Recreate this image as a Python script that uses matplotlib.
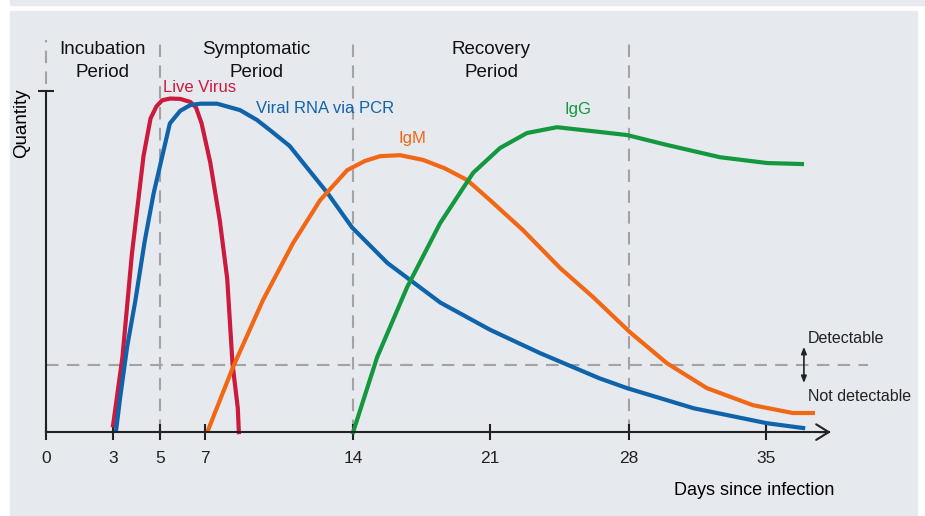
import numpy as np
import matplotlib
matplotlib.use("Agg")
import matplotlib.pyplot as plt
from matplotlib.patches import Rectangle

plt.rcParams['font.family'] = ['Liberation Sans', 'DejaVu Sans']

# x axis ticks (days since infection)
TICK_DAYS = [0, 3, 5, 7, 14, 21, 28, 35]
# the schematic axis is slightly stretched at the start
AXIS_STRETCH = [0, 3.26, 5.54, 7.73, 14.93, 21.59, 28.34, 35.0]

PERIOD_BOUNDS = [0, 5, 14, 28]
PERIOD_NAMES = ["Incubation\nPeriod", "Symptomatic\nPeriod", "Recovery\nPeriod"]
THRESHOLD = 19.6

# curves (day, quantity 0..100)
live_days = [3.0, 3.4, 3.8, 4.3, 4.6, 4.85, 5.1, 5.45, 5.9, 6.35, 6.6, 6.85, 7.25, 7.7, 8.05, 8.3, 8.55, 8.6]
live_q = [2, 22, 52, 81, 92, 95.5, 97.3, 97.8, 97.7, 96.8, 95.2, 90.5, 79, 62, 45, 20, 7, 0]

rna_days = [3.13, 3.3, 3.6, 3.95, 4.35, 4.73, 5.07, 5.44, 5.9, 6.35, 6.8, 7.57, 8.66, 9.46, 10.1,
            11.0, 11.8, 12.8, 13.95, 15.75, 18.45, 21.0, 23.5, 26.5, 27.9, 31.3, 35.05, 36.9]
rna_q = [0.5, 10, 25, 38.5, 56, 70, 80, 90.5, 94.2, 95.9, 96.3, 96.3, 94.4, 91.5, 88.4,
         83.9, 77.7, 70, 60, 49.6, 38, 30, 23.2, 15.8, 12.9, 7, 2.6, 1.2]

igm_days = [7.14, 8.32, 9.74, 11.16, 12.44, 13.72, 14.6, 15.38, 16.4, 17.58, 18.7, 19.83, 21.0,
            22.66, 24.53, 26.19, 28.05, 29.94, 31.98, 34.33, 36.37, 37.4]
igm_q = [0.5, 19, 38.7, 55.4, 68, 76.8, 79.5, 80.9, 81.2, 79.8, 77.3, 73.9, 68,
         59.2, 48.1, 39.6, 29.3, 20.2, 12.9, 7.9, 5.6, 5.6]

igg_days = [14.0, 15.23, 16.76, 18.45, 20.13, 21.5, 22.86, 24.37, 26.54, 27.9, 29.94, 32.65, 35.05, 36.84]
igg_q = [0, 22, 42.5, 61.3, 76, 83.3, 87.7, 89.4, 88, 87.1, 84.2, 80.6, 78.9, 78.6]

RED = "#cc1a3d"
BLUE = "#0e63ab"
ORANGE = "#f26714"
GREEN = "#13983f"
AXIS_C = "#222222"
DASH_C = "#a3a3a3"
PANEL_C = "#e6e9ee"


def fwd(d):
    d = np.asarray(d, dtype=float)
    out = np.interp(d, TICK_DAYS, AXIS_STRETCH)
    out = np.where(d < 0, d * 1.086, out)
    out = np.where(d > 35, 35 + (d - 35) * 0.951, out)
    return out


def inv(u):
    u = np.asarray(u, dtype=float)
    out = np.interp(u, AXIS_STRETCH, TICK_DAYS)
    out = np.where(u < 0, u / 1.086, out)
    out = np.where(u > 35, 35 + (u - 35) / 0.951, out)
    return out


fig = plt.figure(figsize=(9.25, 5.16), dpi=100)
fig.patch.set_facecolor("white")
fig.patches.append(Rectangle((10 / 925, 0), 907 / 925, 505 / 516,
                             transform=fig.transFigure, color=PANEL_C, zorder=-10))
fig.patches.append(Rectangle((10 / 925, 511.5 / 516), 915 / 925, 4.5 / 516,
                             transform=fig.transFigure, color=PANEL_C, zorder=-10))

ax = fig.add_axes([0, 0, 1, 1])
ax.set_facecolor("none")
ax.set_xscale("function", functions=(fwd, inv))
ax.set_xlim(-2.059, 43.13)
ax.set_ylim(-24.6, 126.7)

# period separators and detection threshold
ax.vlines(0, 102, 115, colors=DASH_C, linewidth=1.5, linestyles=(0, (6, 4)), zorder=1)
ax.vlines(PERIOD_BOUNDS[1:], 0, 115, colors=DASH_C, linewidth=1.5, linestyles=(0, (6, 4)), zorder=1)
ax.hlines(THRESHOLD, 0, 40.2, colors=DASH_C, linewidth=1.5, linestyles=(0, (6, 4)), zorder=1)

# curves
ax.plot(live_days, live_q, color=RED, lw=3, solid_joinstyle="round", zorder=3)
ax.plot(rna_days, rna_q, color=BLUE, lw=3, solid_joinstyle="round", zorder=3)
ax.plot(igm_days, igm_q, color=ORANGE, lw=3, solid_joinstyle="round", zorder=3)
ax.plot(igg_days, igg_q, color=GREEN, lw=3, solid_joinstyle="round", zorder=3)

ax.text(6.78, 100.9, "Live Virus", color=RED, fontsize=12, ha="center", va="center")
ax.text(12.68, 95.0, "Viral RNA via PCR", color=BLUE, fontsize=12, ha="center", va="center")
ax.text(17.04, 86.2, "IgM", color=ORANGE, fontsize=12, ha="center", va="center")
ax.text(25.41, 94.7, "IgG", color=GREEN, fontsize=12, ha="center", va="center")

# period titles
for i, name in enumerate(PERIOD_NAMES):
    lo, hi = PERIOD_BOUNDS[i], PERIOD_BOUNDS[i + 1]
    mid = inv((fwd(lo) + fwd(hi)) / 2)
    ax.text(mid, 108.8, name, fontsize=13.5, ha="center", va="center",
            linespacing=1.4, color="#111111")

# axes
for side in ["top", "right"]:
    ax.spines[side].set_visible(False)
ax.spines["left"].set_position(("data", 0))
ax.spines["bottom"].set_position(("data", 0))
ax.spines["left"].set_bounds(0, 100)
ax.spines["bottom"].set_bounds(0, 38.2)
for side in ["left", "bottom"]:
    ax.spines[side].set_linewidth(1.5)
    ax.spines[side].set_color(AXIS_C)
    ax.spines[side].set_zorder(4)

ax.annotate("", xy=(38.45, 0), xytext=(37.6, 0),
            arrowprops=dict(arrowstyle="->,head_length=0.45,head_width=0.28",
                            color=AXIS_C, lw=1.5, mutation_scale=20))

ax.set_xticks(TICK_DAYS)
ax.set_xticklabels([str(t) for t in TICK_DAYS])
ax.set_yticks([100])
ax.set_yticklabels([])
ax.tick_params(axis="both", direction="inout", length=11, width=1.5, color=AXIS_C,
               labelsize=12.5, labelcolor="#222222")
ax.tick_params(axis="x", pad=8)
ax.xaxis.set_minor_locator(matplotlib.ticker.NullLocator())

ax.text(-1.07, 90.6, "Quantity", rotation=90, fontsize=13.5, ha="center", va="center")
ax.text(34.4, -17.0, "Days since infection", fontsize=13, ha="center", va="center")

# detectability marker
ax.annotate("", xy=(36.94, 25.0), xytext=(36.94, 14.4),
            arrowprops=dict(arrowstyle="<|-|>,head_length=0.5,head_width=0.2",
                            color=AXIS_C, lw=1.2, mutation_scale=8, shrinkA=0, shrinkB=0))
ax.text(37.15, 27.3, "Detectable", fontsize=11.5, ha="left", va="center", color="#222222")
ax.text(37.15, 10.3, "Not detectable", fontsize=11.5, ha="left", va="center", color="#222222")

fig.savefig("out.png", dpi=100, facecolor=fig.get_facecolor())
